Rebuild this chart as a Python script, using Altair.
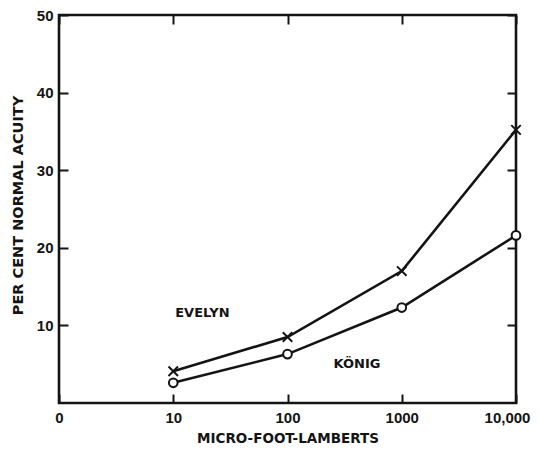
import altair as alt
import pandas as pd

# ---- data ----
lux = [10, 100, 1000, 10000]
evelyn = [4.1, 8.5, 17.0, 35.2]
konig = [2.6, 6.3, 12.3, 21.6]

x_ticks = [1, 10, 100, 1000, 10000]     # "0" is drawn one decade below 10
y_ticks = [10, 20, 30, 40, 50]

label_text = ["EVELYN", "KÖNIG"]
label_x = [18, 406]
label_y = [11.6, 5.0]

df = pd.DataFrame({
    "lux": lux * 2,
    "value": evelyn + konig,
    "series": ["Evelyn"] * len(lux) + ["König"] * len(lux),
})
lab = pd.DataFrame({"text": label_text, "lux": label_x, "value": label_y})

INK = "#141414"
TICK_FONT = "Liberation Sans"
TITLE_FONT = "DejaVu Sans"

xscale = alt.Scale(type="log", domain=[1, 10000], nice=False)
yscale = alt.Scale(domain=[0, 50], nice=False, zero=True)

x_axis = alt.Axis(
    values=x_ticks, offset=-9, tickSize=9, tickWidth=2, tickColor=INK,
    domain=False, grid=False,
    labelExpr="datum.value < 2 ? '0' : (datum.value >= 10000 ? format(datum.value, ',') : format(datum.value, 'd'))",
    labelFont=TICK_FONT, labelFontSize=15, labelFontWeight="bold", labelColor=INK,
    labelPadding=7, labelFlush=False,
    labelOffset={"condition": {"test": "datum.value == 10000", "value": -9}, "value": 0},
    title="MICRO-FOOT-LAMBERTS", titleFont=TITLE_FONT, titleFontSize=13.5,
    titleFontWeight="bold", titleColor=INK, titlePadding=6,
)
y_axis = alt.Axis(
    values=y_ticks, offset=-9, tickSize=9, tickWidth=2, tickColor=INK,
    domain=False, grid=False,
    labelFont=TICK_FONT, labelFontSize=15, labelFontWeight="bold", labelColor=INK,
    labelPadding=6,
    title="PER CENT NORMAL ACUITY", titleFont=TITLE_FONT, titleFontSize=14.5,
    titleFontWeight="bold", titleColor=INK, titlePadding=11, titleY=190,
)

X = alt.X("lux:Q", scale=xscale, axis=x_axis)
Y = alt.Y("value:Q", scale=yscale, axis=y_axis)

lines = alt.Chart(df).mark_line(color=INK, strokeWidth=2.6).encode(
    x=X, y=Y, detail="series:N"
)

xshape = "M-1,-1L1,1M-1,1L1,-1"
pts_e = alt.Chart(df).transform_filter(alt.datum.series == "Evelyn").mark_point(
    shape=xshape, size=90, filled=False, stroke=INK, strokeWidth=2, opacity=1
).encode(x=X, y=Y)
pts_k = alt.Chart(df).transform_filter(alt.datum.series == "König").mark_point(
    shape="circle", size=75, filled=True, fill="white", stroke=INK, strokeWidth=2, opacity=1
).encode(x=X, y=Y)

labels = alt.Chart(lab).mark_text(
    font=TITLE_FONT, fontSize=13, fontWeight="bold", color=INK, align="center", baseline="middle"
).encode(x=X, y=Y, text="text:N")

main = alt.layer(lines, pts_e, pts_k, labels)

# second set of axes: inward ticks on top and right, no labels
frame_ticks = alt.Chart(df).mark_point(opacity=0).encode(
    x=alt.X("lux:Q", scale=xscale, axis=alt.Axis(
        orient="top", values=x_ticks, offset=-9, tickSize=9, tickWidth=2, tickColor=INK,
        domain=False, grid=False, labels=False, title=None)),
    y=alt.Y("value:Q", scale=yscale, axis=alt.Axis(
        orient="right", values=y_ticks, offset=-9, tickSize=9, tickWidth=2, tickColor=INK,
        domain=False, grid=False, labels=False, title=None)),
)

chart = alt.layer(main, frame_ticks).resolve_axis(
    x="independent", y="independent"
).properties(
    width=457, height=388,
    autosize=alt.AutoSizeParams(type="none"),
    padding={"left": 51, "top": 7, "right": 16, "bottom": 43},
    background="white",
).configure_view(
    stroke=INK, strokeWidth=2.6
)

chart.save("out.html", embed_options={"renderer": "svg", "actions": False})
